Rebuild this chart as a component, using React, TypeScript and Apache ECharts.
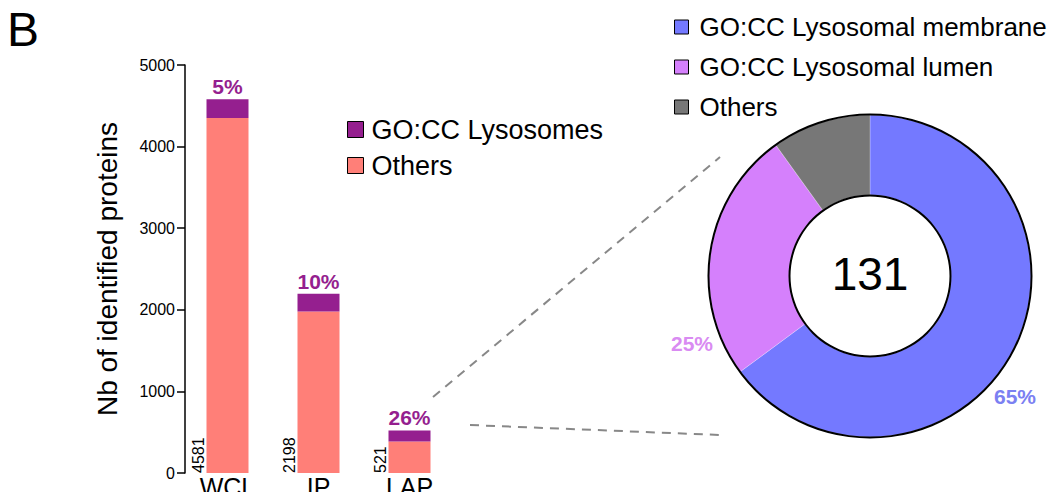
import React, { useEffect, useRef } from "react";
import * as echarts from "echarts";

const categories = ["WCL", "IP", "LAP"];
const totals = [4581, 2198, 521];
const lysosomes = [231, 220, 135];
const others = [4350, 1978, 386];
const lysoPercent = ["5%", "10%", "26%"];
const yMax = 5000;
const yInterval = 1000;

const pieNames = ["GO:CC Lysosomal membrane", "GO:CC Lysosomal lumen", "Others"];
const pieValues = [85, 33, 13];
const pieTotal = 131;
const piePercentLabels = ["65%", "25%", ""];

const BAR_LYSO = "#951F8F";
const BAR_OTHERS = "#FF7F78";
const PIE_COLORS = ["#7479FF", "#D580FC", "#777777"];
const PIE_LABEL_COLORS = ["#7B80F2", "#D98BF2", "#777777"];
const FONT = "'Liberation Sans', Arial, Helvetica, sans-serif";

const PIE_CENTER = [870, 276];
const PIE_R_IN = 81;
const PIE_R_OUT = 161;
const PIE_LABEL_POS = [
  [1015, 396],
  [692, 343],
  [0, 0],
];

export default function App() {
  const ref = useRef<HTMLDivElement>(null);
  useEffect(() => {
    if (!ref.current) return;
    const chart = echarts.init(ref.current, null, { renderer: "svg" });
    const option: any = {
      animation: false,
      backgroundColor: "#ffffff",
      textStyle: { fontFamily: FONT },
      grid: { left: 182, top: 65, width: 273, bottom: 27, containLabel: false },
      legend: [
        {
          data: [
            { name: "GO:CC Lysosomes", itemStyle: { color: BAR_LYSO } },
            { name: "Others", itemStyle: { color: BAR_OTHERS } },
          ],
          orient: "vertical",
          left: 342,
          top: 111,
          icon: "rect",
          itemWidth: 16,
          itemHeight: 16,
          itemGap: 9,
          itemStyle: { borderColor: "#000", borderWidth: 1 },
          textStyle: { fontSize: 27, color: "#000", fontFamily: FONT, padding: [0, 0, 0, 3] },
          selectedMode: false,
        },
        {
          data: pieNames.map((n, i) => ({ name: n, itemStyle: { color: PIE_COLORS[i] } })),
          orient: "vertical",
          left: 669,
          top: 9,
          icon: "rect",
          itemWidth: 14,
          itemHeight: 14,
          itemGap: 14,
          itemStyle: { borderColor: "#000", borderWidth: 1 },
          textStyle: { fontSize: 26, color: "#000", fontFamily: FONT, padding: [0, 0, 0, 6] },
          selectedMode: false,
        },
      ],
      xAxis: {
        type: "category",
        data: categories,
        axisLine: { show: false },
        axisTick: { show: false },
        axisLabel: { fontSize: 25, color: "#000", margin: 1, fontFamily: FONT },
      },
      yAxis: {
        type: "value",
        min: 0,
        max: yMax,
        interval: yInterval,
        offset: -3,
        name: "Nb of identified proteins",
        nameLocation: "middle",
        nameGap: 64,
        nameTextStyle: { fontSize: 28, color: "#000", fontFamily: FONT },
        axisLine: { show: true, lineStyle: { color: "#000", width: 1.5 } },
        axisTick: { show: true, length: 8, lineStyle: { color: "#000", width: 1.5 } },
        axisLabel: {
          fontSize: 16,
          color: "#000",
          margin: 10,
          fontFamily: FONT,
          formatter: (v: number) => String(v),
        },
        splitLine: { show: false },
      },
      series: [
        {
          name: "Others",
          type: "bar",
          stack: "total",
          data: others,
          barWidth: 42,
          itemStyle: { color: BAR_OTHERS },
          label: {
            show: true,
            position: [-8, "100%"],
            rotate: 90,
            align: "left",
            verticalAlign: "middle",
            distance: 0,
            fontSize: 16,
            color: "#000",
            fontFamily: FONT,
            formatter: (p: any) => String(totals[p.dataIndex]),
          },
        },
        {
          name: "GO:CC Lysosomes",
          type: "bar",
          stack: "total",
          data: lysosomes,
          barWidth: 42,
          itemStyle: { color: BAR_LYSO },
          label: {
            show: true,
            position: "top",
            distance: 2,
            fontSize: 21,
            fontWeight: "bold",
            color: BAR_LYSO,
            fontFamily: FONT,
            formatter: (p: any) => lysoPercent[p.dataIndex],
          },
        },
        {
          name: "pie",
          type: "pie",
          center: PIE_CENTER,
          radius: [PIE_R_IN, PIE_R_OUT],
          startAngle: 90,
          clockwise: true,
          silent: true,
          avoidLabelOverlap: false,
          itemStyle: { borderWidth: 0.5, borderColor: "rgba(255,255,255,0.5)" },
          label: {
            show: true,
            position: "outside",
            fontSize: 21,
            fontWeight: "bold",
            fontFamily: FONT,
            formatter: (p: any) => piePercentLabels[p.dataIndex],
          },
          labelLine: { show: false },
          labelLayout: (p: any) => ({
            x: PIE_LABEL_POS[p.dataIndex][0],
            y: PIE_LABEL_POS[p.dataIndex][1],
            align: "center",
            verticalAlign: "middle",
            hideOverlap: false,
          }),
          data: pieNames.map((n, i) => ({
            name: n,
            value: pieValues[i],
            itemStyle: { color: PIE_COLORS[i] },
            label: { color: PIE_LABEL_COLORS[i] },
          })),
        },
        {
          name: "outerRing",
          type: "pie",
          center: PIE_CENTER,
          radius: [PIE_R_OUT - 0.5, PIE_R_OUT + 1.5],
          silent: true,
          label: { show: false },
          labelLine: { show: false },
          data: [{ name: "ring-out", value: 1, itemStyle: { color: "#000" } }],
        },
        {
          name: "innerRing",
          type: "pie",
          center: PIE_CENTER,
          radius: [PIE_R_IN - 1.5, PIE_R_IN + 0.5],
          silent: true,
          label: { show: false },
          labelLine: { show: false },
          data: [{ name: "ring-in", value: 1, itemStyle: { color: "#000" } }],
        },
      ],
      graphic: [
        {
          type: "text",
          left: 7,
          top: 5,
          style: { text: "B", fontSize: 48, fill: "#000", fontFamily: FONT },
        },
        {
          type: "text",
          x: PIE_CENTER[0],
          y: PIE_CENTER[1] - 2,
          style: {
            text: String(pieTotal),
            fontSize: 46,
            fill: "#000",
            fontFamily: FONT,
            align: "center",
            verticalAlign: "middle",
          },
        },
        {
          type: "line",
          shape: { x1: 433, y1: 397, x2: 720, y2: 157 },
          style: { stroke: "#888", lineWidth: 2, lineDash: [9, 7] },
        },
        {
          type: "line",
          shape: { x1: 470, y1: 425, x2: 720, y2: 435 },
          style: { stroke: "#888", lineWidth: 2, lineDash: [9, 7] },
        },
      ],
    };
    chart.setOption(option);
    return () => chart.dispose();
  }, []);
  return <div ref={ref} style={{ width: 1058, height: 500, margin: -8 }} />;
}
